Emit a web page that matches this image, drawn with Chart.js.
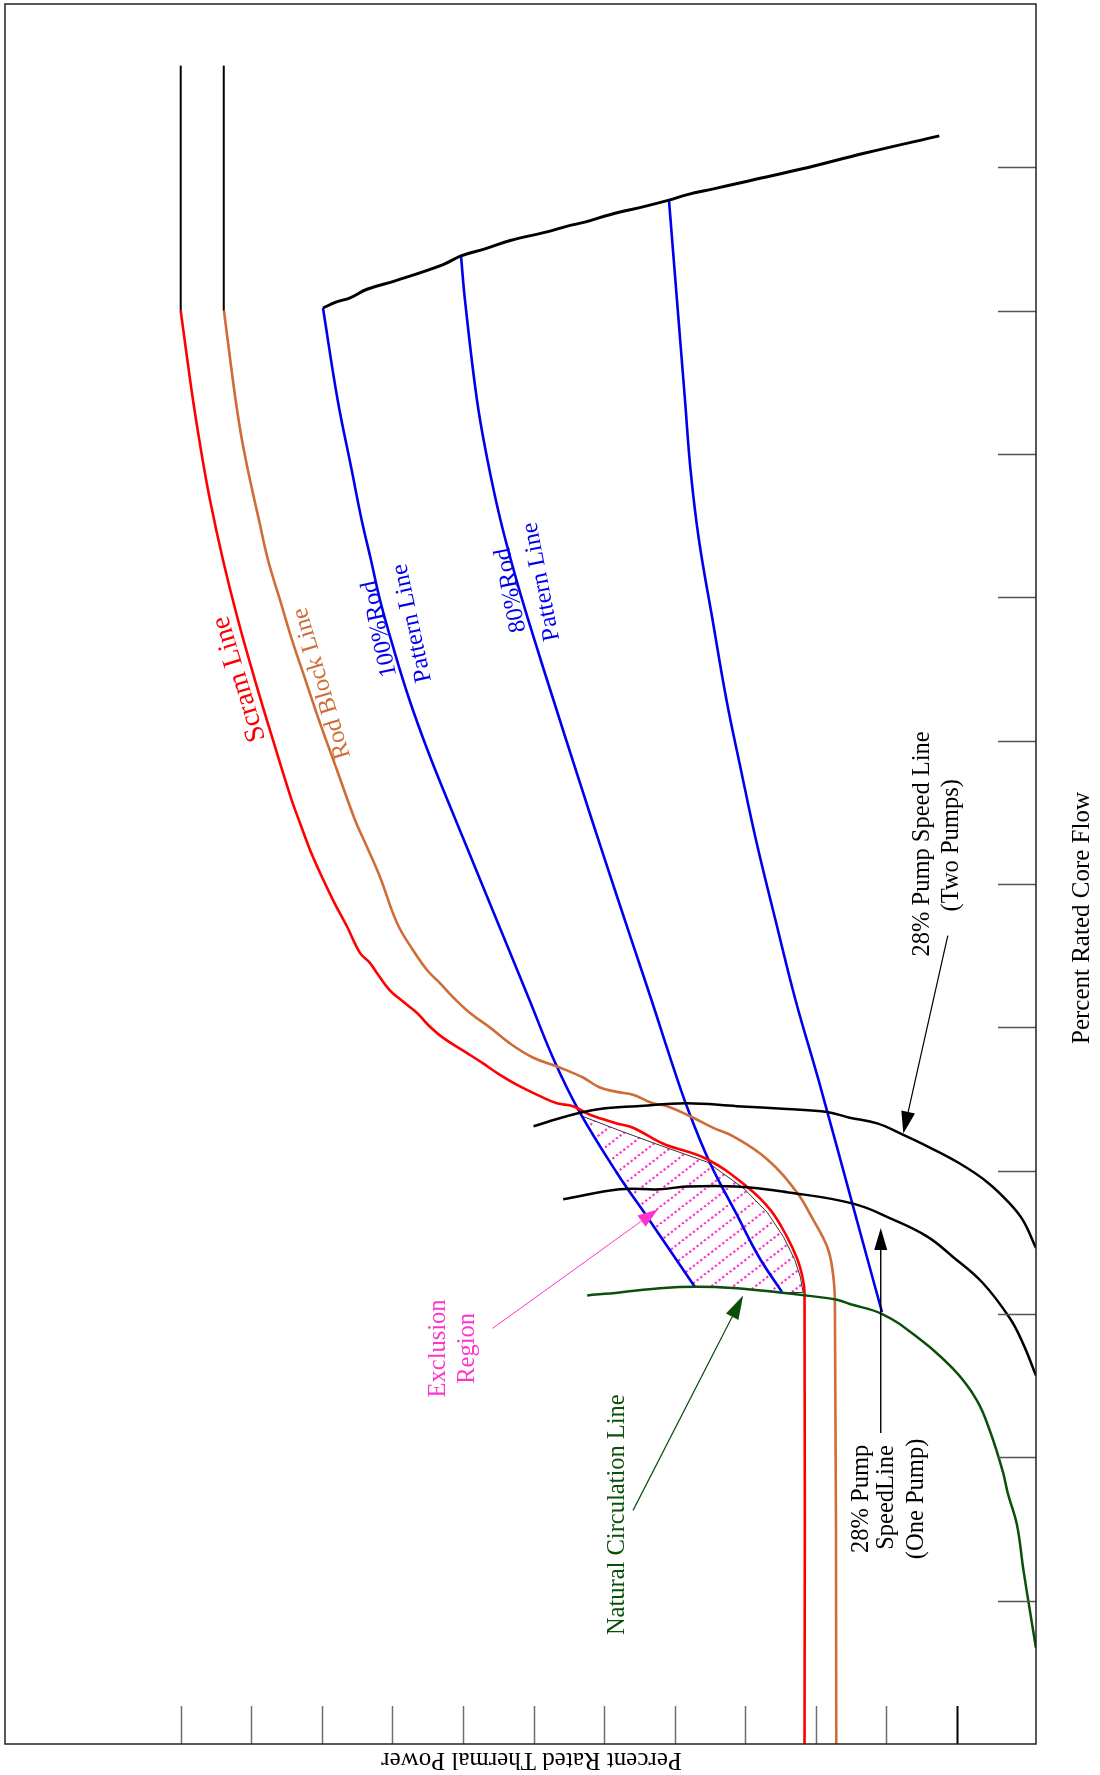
<!DOCTYPE html>
<html>
<head>
<meta charset="utf-8">
<script src="https://cdn.jsdelivr.net/npm/chart.js@4.4.1/dist/chart.umd.min.js"></script>
<style>
  html, body { margin: 0; padding: 0; background: #fff; }
  canvas { display: block; }
</style>
</head>
<body>
<canvas id="map" width="1100" height="1775" style="width:1100px;height:1775px"></canvas>
<script>
// Power / flow operating map.
// Horizontal axis: percent rated thermal power (increasing to the left).
// Vertical axis: percent rated core flow (increasing upward).
// Every curve is a list of [power %, flow %] pairs.

const powerTicks = [10, 20, 30, 40, 50, 60, 70, 80, 90, 100, 110, 120];
const flowTicks = [10, 20, 30, 40, 50, 60, 70, 80, 90, 100, 110];

const scramClamp = [[120.0, 100.0], [120.0, 117.1]];
const rodBlockClamp = [[113.9, 100.0], [113.9, 117.1]];

const scramLine = [
  [120.0, 100.0], [119.25, 97.26], [118.26, 93.77], [117.13, 90.28], [115.85, 86.79],
  [114.01, 82.61], [111.88, 78.42], [109.48, 74.23], [106.93, 70.05], [104.37, 66.0],
  [103.1, 64.26], [101.26, 61.88], [98.42, 58.88], [96.4, 57.0], [94.6, 55.2], [93.2, 54.5],
  [92.2, 53.8], [90.4, 52.6], [88.5, 51.8], [86.5, 51.0], [85.0, 50.2], [82.9, 49.3],
  [79.4, 48.2], [77.2, 47.5], [74.8, 46.7], [72.4, 46.0], [69.1, 45.2], [66.7, 44.7],
  [64.4, 44.5], [62.0, 43.9], [58.2, 43.3], [55.9, 43.0], [51.7, 41.9], [45.4, 40.8],
  [39.8, 38.9], [36.5, 37.3], [34.1, 35.4], [32.6, 33.8], [31.9, 32.6], [31.6, 31.5],
  [31.6, 0.0]
];

const rodBlockLine = [
  [113.87, 100.0], [113.16, 97.26], [112.22, 93.77], [111.32, 90.98], [110.18, 88.19],
  [108.91, 85.4], [107.63, 82.61], [105.93, 79.82], [104.23, 77.03], [102.32, 74.23],
  [100.41, 71.44], [97.86, 67.96], [95.3, 64.47], [93.6, 62.58], [91.76, 60.49],
  [89.35, 57.28], [87.1, 55.4], [85.1, 54.0], [83.3, 53.1], [81.4, 52.1], [79.0, 51.0],
  [76.2, 50.0], [73.4, 48.9], [70.1, 47.9], [66.3, 47.2], [63.0, 46.5], [60.6, 45.8],
  [58.2, 45.5], [55.9, 45.3], [53.1, 44.7], [51.1, 44.5], [47.8, 43.8], [44.6, 43.0],
  [41.7, 42.4], [36.9, 40.8], [32.7, 38.5], [30.4, 36.6], [28.4, 34.7], [27.7, 33.3],
  [27.3, 31.0], [27.1, 0.0]
];

const rodPattern100 = [
  [99.84, 100.19], [97.76, 93.77], [95.77, 88.88], [94.36, 85.4], [93.04, 82.61],
  [91.76, 79.82], [89.78, 76.33], [87.58, 72.84], [85.03, 69.35], [82.2, 65.86],
  [79.29, 62.37], [76.39, 58.88], [73.48, 55.4], [70.58, 51.91], [67.11, 47.72],
  [63.63, 44.23], [58.18, 39.84], [53.79, 36.7], [47.13, 31.89]
];

const rodPattern80 = [
  [80.28, 103.82], [79.72, 100.75], [78.02, 93.77], [76.53, 89.58], [74.69, 85.4],
  [72.42, 81.21], [69.87, 77.03], [67.18, 72.84], [63.56, 67.26], [59.88, 61.68],
  [56.12, 56.09], [53.29, 51.91], [50.53, 47.72], [47.98, 44.09], [45.0, 40.54],
  [41.32, 37.05], [38.06, 33.98], [34.8, 31.54]
];

const rodPatternLow = [
  [50.81, 107.72], [49.68, 100.75], [48.54, 93.77], [47.75, 88.88], [46.56, 84.0],
  [44.63, 78.42], [42.66, 72.84], [40.61, 67.96], [38.48, 63.07], [35.72, 57.49],
  [32.88, 51.91], [29.62, 46.33], [24.74, 37.54], [20.63, 30.14]
];

const highFlowBoundary = [
  [99.84, 100.19], [98.0, 100.6], [96.0, 100.9], [93.6, 101.5], [89.5, 102.1], [82.9, 103.2],
  [80.28, 103.82], [77.0, 104.3], [73.3, 104.9], [68.1, 105.5], [65.2, 105.9], [62.6, 106.2],
  [59.2, 106.7], [54.1, 107.3], [50.81, 107.72], [48.2, 108.1], [44.5, 108.5], [40.0, 109.0],
  [31.9, 109.9], [23.0, 111.0], [12.5, 112.2]
];

const naturalCirculation = [
  [62.4, 31.3], [57.8, 31.5], [52.1, 31.8], [46.8, 31.9], [41.2, 31.8], [35.1, 31.5],
  [31.6, 31.3], [27.0, 31.0], [25.2, 30.7], [20.6, 30.0], [16.2, 28.6], [10.6, 26.2],
  [7.2, 24.0], [5.3, 21.8], [3.5, 19.0], [2.8, 17.5], [1.5, 15.3], [0.6, 12.2],
  [-0.4, 9.1], [-1.2, 6.7]
];

const pumpSpeedTwoPumps = [
  [70.0, 43.1], [65.3, 43.8], [60.6, 44.3], [55.4, 44.5], [48.3, 44.7], [41.2, 44.5],
  [34.1, 44.3], [28.4, 44.1], [25.2, 43.7], [21.3, 43.3], [17.6, 42.5], [14.2, 41.7],
  [9.6, 40.5], [5.7, 39.2], [2.5, 37.7], [0.6, 36.5], [-1.2, 34.6]
];

const pumpSpeedOnePump = [
  [65.8, 38.0], [57.8, 38.7], [52.1, 38.7], [48.3, 38.9], [41.2, 38.9], [34.1, 38.5],
  [24.7, 37.7], [19.1, 36.6], [14.2, 35.4], [10.6, 34.0], [6.4, 32.2], [2.5, 29.7],
  [0.6, 27.9], [-1.2, 25.7]
];

const exclusionRegion = [
  [63.1, 43.8], [57.8, 42.8], [51.7, 41.7], [45.4, 40.6], [40.3, 38.8], [36.9, 37.1],
  [34.6, 35.4], [33.0, 33.8], [32.2, 32.6], [31.8, 31.5], [35.1, 31.5], [41.2, 31.8],
  [47.13, 31.89], [53.79, 36.7], [58.18, 39.84], [63.1, 43.8]
];

// Leader arrows: [from, to] in [power, flow]
const exclusionArrow = [[75.8, 29.0], [52.4, 37.3]];
const naturalCirculationArrow = [[55.9, 16.3], [40.3, 31.3]];
const twoPumpArrow = [[11.3, 56.4], [17.6, 42.6]];
const onePumpArrow = [[20.8, 21.7], [20.8, 36.0]];

const RED = '#ff0000';
const ORANGE = '#cf6c37';
const BLUE = '#0000ee';
const GREEN = '#0a4f0a';
const MAGENTA = '#ff33cc';
const BLACK = '#000000';
const FONT = '"Liberation Serif", "Times New Roman", serif';

// Text labels: text, anchor [power, flow], rotation (deg), colour, size (px)
const labels = [
  { text: 'Scram Line', at: [111.7, 74.3], rot: -107, color: RED, size: 28 },
  { text: 'Rod Block Line', at: [100.0, 74.0], rot: -106.5, color: ORANGE, size: 24.5 },
  { text: '100%Rod', at: [91.8, 77.8], rot: -102, color: BLUE, size: 24.5 },
  { text: 'Pattern Line', at: [87.2, 78.2], rot: -102, color: BLUE, size: 24.5 },
  { text: '80%Rod', at: [73.2, 80.5], rot: -101, color: BLUE, size: 24.5 },
  { text: 'Pattern Line', at: [68.9, 81.1], rot: -101, color: BLUE, size: 24.5 },
  { text: 'Exclusion', at: [83.4, 27.6], rot: -90, color: MAGENTA, size: 24.5 },
  { text: 'Region', at: [79.4, 27.6], rot: -90, color: MAGENTA, size: 24.5 },
  { text: 'Natural Circulation Line', at: [58.1, 16.0], rot: -90, color: GREEN, size: 24.5 },
  { text: '28% Pump Speed Line', at: [14.9, 62.8], rot: -90, color: BLACK, size: 24.5 },
  { text: '(Two Pumps)', at: [10.7, 62.7], rot: -90, color: BLACK, size: 24.5 },
  { text: '28% Pump', at: [23.5, 17.1], rot: -90, color: BLACK, size: 24.5 },
  { text: 'SpeedLine', at: [20.0, 17.2], rot: -90, color: BLACK, size: 24.5 },
  { text: '(One Pump)', at: [15.7, 17.1], rot: -90, color: BLACK, size: 24.5 }
];

function pts(arr) { return arr.map(([p, f]) => ({ x: p, y: f })); }

// Dotted diagonal hatch used inside the exclusion region
function hatchPattern() {
  const W = 22, H = 17;
  const c = document.createElement('canvas');
  c.width = W; c.height = H;
  const g = c.getContext('2d');
  g.strokeStyle = MAGENTA;
  g.lineWidth = 2.2;
  const len = Math.hypot(W, H);
  const period = len / 6;
  g.setLineDash([period * 0.5, period * 0.5]);
  for (const k of [-1, 0, 1]) {
    g.beginPath();
    g.moveTo(k * W, H);
    g.lineTo(k * W + W, 0);
    g.stroke();
  }
  return g.createPattern(c, 'repeat');
}

function line(label, arr, color, width, extra) {
  return Object.assign({
    label, data: pts(arr), showLine: true, borderColor: color, borderWidth: width,
    pointRadius: 0, fill: false, tension: 0.4, borderJoinStyle: 'round', borderCapStyle: 'butt'
  }, extra || {});
}

function drawArrow(ctx, x0, y0, x1, y1, color, lw, len, half) {
  const a = Math.atan2(y1 - y0, x1 - x0);
  const bx = x1 - len * Math.cos(a), by = y1 - len * Math.sin(a);
  ctx.strokeStyle = color; ctx.fillStyle = color; ctx.lineWidth = lw;
  ctx.beginPath(); ctx.moveTo(x0, y0); ctx.lineTo(bx, by); ctx.stroke();
  ctx.beginPath();
  ctx.moveTo(x1, y1);
  ctx.lineTo(bx + half * Math.sin(a), by - half * Math.cos(a));
  ctx.lineTo(bx - half * Math.sin(a), by + half * Math.cos(a));
  ctx.closePath(); ctx.fill();
}

const overlay = {
  id: 'overlay',
  afterDatasetsDraw(chart) {
    const { ctx, chartArea: a, scales: { x, y } } = chart;
    ctx.save();

    // power ticks along the bottom edge
    powerTicks.forEach((v) => {
      const px = Math.round(x.getPixelForValue(v)) + 0.5;
      ctx.strokeStyle = v === 10 ? '#000' : '#6e6e6e';
      ctx.lineWidth = v === 10 ? 2 : 1.5;
      ctx.beginPath(); ctx.moveTo(px, a.bottom - 38); ctx.lineTo(px, a.bottom); ctx.stroke();
    });
    // flow ticks along the right edge
    flowTicks.forEach((v) => {
      const py = Math.round(y.getPixelForValue(v)) + 0.5;
      ctx.strokeStyle = '#555';
      ctx.lineWidth = 1.3;
      ctx.beginPath(); ctx.moveTo(a.right - 38, py); ctx.lineTo(a.right, py); ctx.stroke();
    });

    // frame
    ctx.strokeStyle = '#222';
    ctx.lineWidth = 1.5;
    ctx.strokeRect(a.left, a.top, a.right - a.left, a.bottom - a.top);

    // leader arrows
    const P = (d) => [x.getPixelForValue(d[0]), y.getPixelForValue(d[1])];
    const arrows = [
      [exclusionArrow, MAGENTA, 1, 20, 7],
      [naturalCirculationArrow, GREEN, 1.2, 24, 7],
      [twoPumpArrow, BLACK, 1.2, 22, 7],
      [onePumpArrow, BLACK, 1.4, 22, 6.5]
    ];
    arrows.forEach(([seg, col, lw, len, half]) => {
      const [x0, y0] = P(seg[0]);
      const [x1, y1] = P(seg[1]);
      drawArrow(ctx, x0, y0, x1, y1, col, lw, len, half);
    });

    // curve labels
    labels.forEach((l) => {
      const [px, py] = P(l.at);
      ctx.save();
      ctx.translate(px, py);
      ctx.rotate(l.rot * Math.PI / 180);
      ctx.font = l.size + 'px ' + FONT;
      ctx.fillStyle = l.color;
      ctx.textAlign = 'center';
      ctx.textBaseline = 'middle';
      ctx.fillText(l.text, 0, 0);
      ctx.restore();
    });

    // axis titles
    ctx.font = '25px ' + FONT;
    ctx.fillStyle = '#000';
    ctx.textAlign = 'center';
    ctx.textBaseline = 'middle';
    ctx.save();
    ctx.translate(a.right + 46, (a.top + a.bottom) / 2 + 44);
    ctx.rotate(-Math.PI / 2);
    ctx.fillText('Percent Rated Core Flow', 0, 0);
    ctx.restore();
    ctx.save();
    ctx.translate((a.left + a.right) / 2 + 11, a.bottom + 16);
    ctx.rotate(Math.PI);
    ctx.fillText('Percent Rated Thermal Power', 0, 0);
    ctx.restore();

    ctx.restore();
  }
};

new Chart(document.getElementById('map'), {
  type: 'scatter',
  data: {
    datasets: [
      line('Scram clamp', scramClamp, BLACK, 2),
      line('Rod block clamp', rodBlockClamp, BLACK, 2),
      line('High flow boundary', highFlowBoundary, BLACK, 3),
      line('28% pump speed (two pumps)', pumpSpeedTwoPumps, BLACK, 2.5),
      line('28% pump speed (one pump)', pumpSpeedOnePump, BLACK, 2.5),
      line('Natural circulation', naturalCirculation, GREEN, 2.5),
      line('Scram', scramLine, RED, 2.6),
      line('Rod block', rodBlockLine, ORANGE, 2.6),
      line('100% rod pattern', rodPattern100, BLUE, 2.6),
      line('80% rod pattern', rodPattern80, BLUE, 2.6),
      line('Low rod pattern', rodPatternLow, BLUE, 2.6),
      line('Exclusion region', exclusionRegion, '#333', 1, {
        fill: 'shape', backgroundColor: hatchPattern(), order: 10, tension: 0
      })
    ]
  },
  options: {
    responsive: false,
    animation: false,
    layout: { padding: { left: 5, top: 4, right: 64, bottom: 31 } },
    scales: {
      x: { type: 'linear', reverse: true, min: -1.2, max: 144.9, display: false },
      y: { type: 'linear', min: 0, max: 121.4, display: false }
    },
    plugins: {
      legend: { display: false },
      tooltip: { enabled: false }
    }
  },
  plugins: [overlay]
});
</script>
</body>
</html>
